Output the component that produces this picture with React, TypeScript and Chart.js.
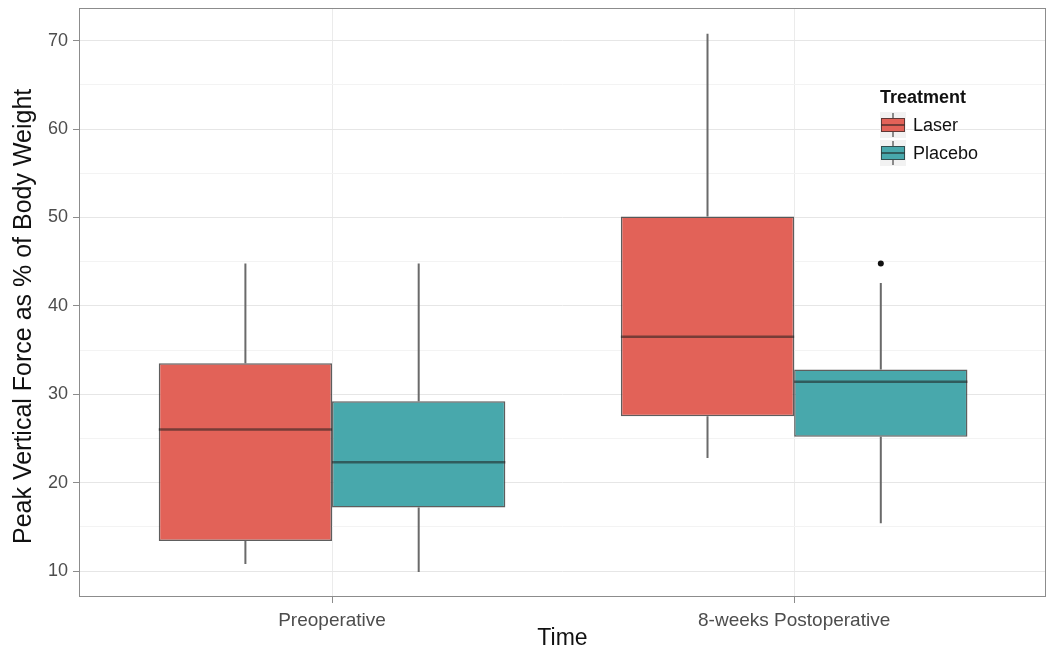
import React, { useEffect, useRef } from 'react';
import { Chart, registerables } from 'chart.js';

Chart.register(...registerables);

// ---- data ----
const categories = ['Preoperative', '8-weeks Postoperative'];
const categoryPositions = [1, 2];
const treatments = ['Laser', 'Placebo'];
const treatmentColors = ['#E26258', '#48A8AC'];

const laserMin = [10.8, 22.8];
const laserQ1 = [13.4, 27.5];
const laserMedian = [26.0, 36.5];
const laserQ3 = [33.5, 50.1];
const laserMax = [44.8, 70.8];
const laserOutliers: number[][] = [[], []];

const placeboMin = [9.9, 15.4];
const placeboQ1 = [17.2, 25.2];
const placeboMedian = [22.3, 31.4];
const placeboQ3 = [29.2, 32.8];
const placeboMax = [44.8, 42.6];
const placeboOutliers: number[][] = [[], [44.8]];

const yTickValues = [10, 15, 20, 25, 30, 35, 40, 45, 50, 55, 60, 65, 70];
const yMin = 7.06;
const yMax = 73.7;
const xMin = 0.4524;
const xMax = 2.545;

const FONT = "'Liberation Sans', Arial, sans-serif";

type Stats = { min: number[]; q1: number[]; median: number[]; q3: number[]; max: number[]; outliers: number[][] };

const statsList: Stats[] = [
  { min: laserMin, q1: laserQ1, median: laserMedian, q3: laserQ3, max: laserMax, outliers: laserOutliers },
  { min: placeboMin, q1: placeboQ1, median: placeboMedian, q3: placeboQ3, max: placeboMax, outliers: placeboOutliers },
];

const boxPlugin = {
  id: 'boxExtras',
  beforeDatasetsDraw(chart: any) {
    const ctx = chart.ctx;
    const y = chart.scales.y;
    chart.data.datasets.forEach((ds: any, di: number) => {
      const st: Stats = ds.stats;
      const meta = chart.getDatasetMeta(di);
      meta.data.forEach((bar: any, i: number) => {
        const { x } = bar.getProps(['x'], true);
        ctx.save();
        ctx.strokeStyle = '#6a6a6a';
        ctx.lineWidth = 2;
        ctx.beginPath();
        ctx.moveTo(x, y.getPixelForValue(st.max[i]));
        ctx.lineTo(x, y.getPixelForValue(st.q3[i]));
        ctx.moveTo(x, y.getPixelForValue(st.q1[i]));
        ctx.lineTo(x, y.getPixelForValue(st.min[i]));
        ctx.stroke();
        ctx.restore();
      });
    });
  },
  afterDatasetsDraw(chart: any) {
    const ctx = chart.ctx;
    const y = chart.scales.y;
    chart.data.datasets.forEach((ds: any, di: number) => {
      const st: Stats = ds.stats;
      const meta = chart.getDatasetMeta(di);
      meta.data.forEach((bar: any, i: number) => {
        const { x, width } = bar.getProps(['x', 'width'], true);
        ctx.save();
        ctx.strokeStyle = 'rgba(30,30,30,0.55)';
        ctx.lineWidth = 2.5;
        const my = y.getPixelForValue(st.median[i]);
        ctx.beginPath();
        ctx.moveTo(x - width / 2, my);
        ctx.lineTo(x + width / 2, my);
        ctx.stroke();
        ctx.fillStyle = '#111';
        st.outliers[i].forEach((v) => {
          ctx.beginPath();
          ctx.arc(x, y.getPixelForValue(v), 3, 0, Math.PI * 2);
          ctx.fill();
        });
        ctx.restore();
      });
    });
  },
  afterDraw(chart: any) {
    const ctx = chart.ctx;
    const a = chart.chartArea;
    ctx.save();
    // panel border
    ctx.strokeStyle = '#8c8c8c';
    ctx.lineWidth = 1;
    ctx.strokeRect(a.left + 0.5, a.top + 0.5, a.right - a.left - 1, a.bottom - a.top - 1);

    // legend
    const lx = 880;
    ctx.fillStyle = '#111';
    ctx.font = `bold 18px ${FONT}`;
    ctx.textBaseline = 'middle';
    ctx.textAlign = 'left';
    ctx.fillText('Treatment', lx, 98);
    chart.data.datasets.forEach((ds: any, di: number) => {
      const cy = 125 + di * 28;
      ctx.fillStyle = '#f2f2f2';
      ctx.fillRect(lx, cy - 13, 26, 26);
      ctx.strokeStyle = '#6a6a6a';
      ctx.lineWidth = 1.5;
      ctx.beginPath();
      ctx.moveTo(lx + 13, cy - 12);
      ctx.lineTo(lx + 13, cy - 7);
      ctx.moveTo(lx + 13, cy + 7);
      ctx.lineTo(lx + 13, cy + 12);
      ctx.stroke();
      ctx.fillStyle = ds.backgroundColor;
      ctx.fillRect(lx + 1, cy - 7, 24, 14);
      ctx.strokeStyle = 'rgba(40,40,40,0.7)';
      ctx.lineWidth = 1;
      ctx.strokeRect(lx + 1.5, cy - 6.5, 23, 13);
      ctx.strokeStyle = 'rgba(30,30,30,0.55)';
      ctx.lineWidth = 2;
      ctx.beginPath();
      ctx.moveTo(lx + 1.5, cy);
      ctx.lineTo(lx + 24.5, cy);
      ctx.stroke();
      ctx.fillStyle = '#111';
      ctx.font = `18px ${FONT}`;
      ctx.fillText(ds.label, lx + 33, cy + 1);
    });
    ctx.restore();
  },
};

export default function App() {
  const ref = useRef<HTMLCanvasElement | null>(null);

  useEffect(() => {
    document.body.style.margin = '0';
    const canvas = ref.current;
    if (!canvas) return;

    const datasets = treatments.map((name, ti) => {
      const st = statsList[ti];
      return {
        label: name,
        stats: st,
        data: categoryPositions.map((xv, ci) => ({ x: xv, y: [st.q1[ci], st.q3[ci]] })),
        backgroundColor: treatmentColors[ti],
        borderColor: 'rgba(40,40,40,0.75)',
        borderWidth: 1.5,
        borderSkipped: false,
        categoryPercentage: 0.75,
        barPercentage: 1,
      } as any;
    });

    const chart = new Chart(canvas, {
      type: 'bar',
      data: { datasets },
      plugins: [boxPlugin as any],
      options: {
        responsive: false,
        animation: false,
        layout: { padding: { top: 8, right: 5, bottom: 0, left: 0 } },
        plugins: {
          legend: { display: false },
          tooltip: { enabled: false },
        },
        scales: {
          x: {
            type: 'linear',
            min: xMin,
            max: xMax,
            offset: false,
            afterBuildTicks: (scale: any) => {
              scale.ticks = categoryPositions.map((v) => ({ value: v }));
            },
            afterFit: (scale: any) => {
              scale.height = 55;
              scale.paddingLeft = 0;
              scale.paddingRight = 0;
            },
            ticks: {
              callback: (v: any) => categories[categoryPositions.indexOf(Number(v))] ?? '',
              color: '#4d4d4d',
              font: { family: FONT, size: 19 },
              padding: 6,
              maxRotation: 0,
              autoSkip: false,
            },
            grid: {
              offset: false,
              color: '#ebebeb',
              lineWidth: 1,
              tickColor: '#8c8c8c',
              tickLength: 6,
              drawTicks: true,
            },
            border: { display: false },
            title: {
              display: true,
              text: 'Time',
              color: '#111',
              font: { family: FONT, size: 23 },
              padding: { top: 0, bottom: 0 },
            },
          },
          y: {
            type: 'linear',
            min: yMin,
            max: yMax,
            afterBuildTicks: (scale: any) => {
              scale.ticks = yTickValues.map((v) => ({ value: v }));
            },
            afterFit: (scale: any) => {
              scale.width = 79;
              scale.paddingTop = 0;
              scale.paddingBottom = 0;
            },
            ticks: {
              callback: (v: any) => (Number(v) % 10 === 0 ? String(v) : ''),
              color: '#4d4d4d',
              font: { family: FONT, size: 18 },
              padding: 5,
              autoSkip: false,
            },
            grid: {
              color: (c: any) => (c.tick && c.tick.value % 10 === 0 ? '#e6e6e6' : '#f3f3f3'),
              lineWidth: 1,
              tickColor: (c: any) => (c.tick && c.tick.value % 10 === 0 ? '#8c8c8c' : 'rgba(0,0,0,0)'),
              tickLength: 6,
              drawTicks: true,
            },
            border: { display: false },
            title: {
              display: true,
              text: 'Peak Vertical Force as % of Body Weight\u00a0\u00a0\u00a0\u00a0',
              color: '#111',
              font: { family: FONT, size: 25 },
              padding: { top: 9, bottom: 0 },
            },
          },
        },
      } as any,
    });

    return () => chart.destroy();
  }, []);

  return (
    <div style={{ width: 1051, height: 652, position: 'relative', background: '#fff' }}>
      <canvas ref={ref} width={1051} height={652} style={{ display: 'block' }} />
    </div>
  );
}
